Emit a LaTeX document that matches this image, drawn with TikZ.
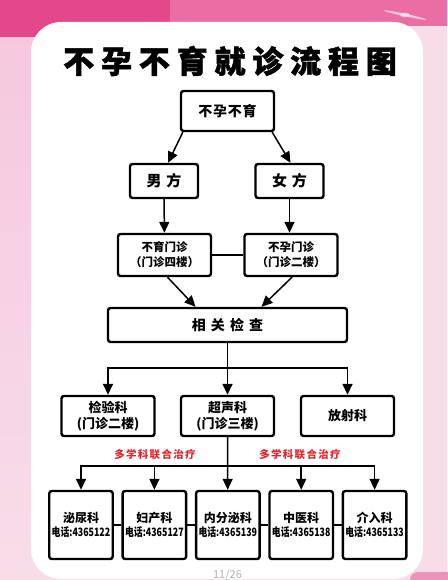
\documentclass[tikz,border=0pt]{standalone}
\usepackage{fontspec}
\usepackage{graphicx}
\newfontfamily\cjk{Noto Sans CJK SC}
\usepackage{tikz}
\usetikzlibrary{arrows.meta,positioning,calc}
\definecolor{bandpink}{HTML}{E5478B}
\definecolor{bandlight}{HTML}{EA6DA4}
\definecolor{sidepink}{HTML}{F6C8DD}
\definecolor{sidelight}{HTML}{F8DDE9}
\definecolor{tagred}{HTML}{E0262C}
\newcommand\tel[1]{{\fontsize{11.5}{14}\selectfont\scalebox{.77}[1]{电话:#1}}}

\begin{document}
\begin{tikzpicture}[x=1pt, y=-1pt,
  font=\cjk\bfseries,
  >={Triangle[width=10pt,length=11pt]},
  link/.style={line width=1.5pt},
  box/.style={draw, line width=2.4pt, rounded corners=2.5pt, align=center, inner sep=0pt},
  rootbox/.style={box, minimum width=93pt, minimum height=40pt,
                  font=\cjk\bfseries\fontsize{14}{16}\selectfont\addfontfeature{LetterSpace=5}},
  sidebox/.style={box, minimum width=68pt, minimum height=34pt,
                  font=\cjk\bfseries\fontsize{15}{17}\selectfont\addfontfeature{LetterSpace=33}},
  clinic/.style={box, minimum width=93pt, minimum height=42pt,
                 font=\cjk\bfseries\fontsize{11.5}{15}\selectfont},
  checkbox/.style={box, minimum width=239pt, minimum height=34pt,
                   font=\cjk\bfseries\fontsize{14}{16}\selectfont\addfontfeature{LetterSpace=36}},
  deptbox/.style={box, minimum width=93pt, minimum height=40pt,
                  font=\cjk\bfseries\fontsize{13}{16}\selectfont},
  unitbox/.style={box, minimum width=63.5pt, text width=62pt, minimum height=68pt,
                  font=\cjk\bfseries\fontsize{12}{14}\selectfont},
  tag/.style={text=tagred, inner sep=0pt,
              font=\cjk\bfseries\fontsize{10.5}{12}\selectfont\addfontfeature{LetterSpace=12}},
  node distance=7.5pt]
\useasboundingbox (0,0) rectangle (447,580);
% background
\fill[sidelight] (0,0) rectangle (447,580);
\shade[top color=sidepink, bottom color=sidelight] (0,30) rectangle (40,580);
\fill[bandlight] (0,0) rectangle (447,26);
\fill[bandpink] (0,0) rectangle (170,37);
\fill[white, opacity=.6, rotate around={-12:(405,15)}] (405,15) ellipse (22 and 1.3);
\fill[white, opacity=.5] (405,15) ellipse (5 and 2.5);
\fill[bandlight!75, rounded corners=8pt] (410,572) rectangle (470,600);
\fill[white, rounded corners=30pt] (31,22) rectangle (423,579);

\node (title) at (230,61) {\fontsize{31}{31}\selectfont\addfontfeature{LetterSpace=22,FakeBold=1.5}不孕不育就诊流程图};

\node[rootbox] (root) at (227.5,111) {不孕不育};
\node[sidebox] (man) at (164,181) {男方};
\node[sidebox] (woman) at (289.5,181) {女方};
\node[clinic] (buyu) at (164.5,255) {不育门诊\\（门诊四楼）};
\node[clinic] (buyun) at (291,255) {不孕门诊\\（门诊二楼）};
\node[checkbox] (check) at (227.5,325) {相关检查};
\node[deptbox] (jianyan) at (108,416) {检验科\\(门诊二楼)};
\node[deptbox] (chao) at (227.5,416) {超声科\\(门诊三楼)};
\node[deptbox] (fangshe) at (347.5,416) {放射科};

\node[unitbox] (miniao) at (81,525) {泌尿科\\\tel{4365122}};
\node[unitbox, right=of miniao] (fuchan) {妇产科\\\tel{4365127}};
\node[unitbox, right=of fuchan] (neifen) {内分泌科\\\tel{4365139}};
\node[unitbox, right=of neifen] (zhongyi) {中医科\\\tel{4365138}};
\node[unitbox, right=of zhongyi] (jieru) {介入科\\\tel{4365133}};

\node[tag] (tagl) at (155,455) {多学科联合治疗};
\node[tag] (tagr) at (300,455) {多学科联合治疗};

\coordinate (fork1) at (227.5,368);
\coordinate (fork2) at (227.5,466);

\draw[link, ->] ([xshift=3]root.south west) -- ([xshift=4]man.north);
\draw[link, ->] ([xshift=-3]root.south east) -- ([xshift=1]woman.north);
\draw[link, ->] (man) -- (buyu);
\draw[link, ->] (woman.south) -- (woman.south |- buyun.north);
\draw[link] (buyu) -- (buyun);
\draw[link, ->] ([xshift=3]buyu.south) -- ([xshift=-32]check.north);
\draw[link, ->] ([xshift=1]buyun.south) -- ([xshift=34]check.north);
\draw[link, ->] (check) -- (chao);
\draw[link, ->] (fork1) -| (jianyan.north);
\draw[link, ->] (fork1) -| (fangshe.north);
\draw[link, ->] (chao) -- (neifen);
\draw[link, ->] (fork2) -| (miniao.north);
\draw[link, ->] (fork2) -| (jieru.north);
\draw[link, ->] (fork2 -| fuchan) -- (fuchan);
\draw[link, ->] (fork2 -| zhongyi) -- (zhongyi);
\foreach \a/\b in {miniao/fuchan, fuchan/neifen, neifen/zhongyi, zhongyi/jieru}
  \draw[link] (\a) -- (\b);

\node[anchor=north, text=gray!60, font=\cjk\fontsize{11}{11}\selectfont] (pageno) at (227.5,566) {11/26};
\end{tikzpicture}
\end{document}
